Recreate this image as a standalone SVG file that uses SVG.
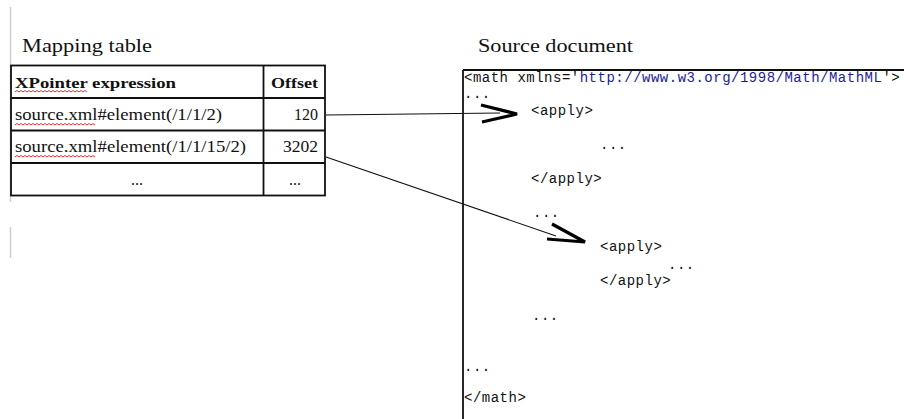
<svg xmlns="http://www.w3.org/2000/svg" width="904" height="419" viewBox="0 0 904 419">
<style>
.title{font-family:"Liberation Serif","Times New Roman",serif;font-size:19px;fill:#111}
.cell{font-family:"Liberation Serif","Times New Roman",serif;font-size:16px;fill:#111}
.hdr{font-family:"Liberation Serif","Times New Roman",serif;font-size:15px;font-weight:bold;fill:#111}
.code{font-family:"Liberation Mono","Courier New",monospace;font-size:14px;letter-spacing:0.5px;fill:#111}
.url{fill:#1c1c9e}
.grid{stroke:#111;stroke-width:1.8;fill:none}
.squig{stroke:#e03030;stroke-width:1;fill:none}
.conn{stroke:#111;stroke-width:1.1;fill:none}
.head{stroke:#000;stroke-width:3.2;fill:none;stroke-linejoin:miter;stroke-linecap:butt}
.guide{stroke:#cfcfcf;stroke-width:1.5}
</style>
<rect width="904" height="419" fill="#fff"/>
<line class="guide" x1="10.5" y1="7" x2="10.5" y2="202"/>
<line class="guide" x1="10.5" y1="227" x2="10.5" y2="258"/>

<g id="mapping-table">
<text class="title" x="22" y="52" textLength="130" lengthAdjust="spacingAndGlyphs">Mapping table</text>
<rect class="grid" x="11" y="65.5" width="314" height="130"/>
<line class="grid" x1="263.5" y1="65.5" x2="263.5" y2="195.5"/>
<line class="grid" x1="11" y1="98" x2="325" y2="98"/>
<line class="grid" x1="11" y1="130.5" x2="325" y2="130.5"/>
<line class="grid" x1="11" y1="163" x2="325" y2="163"/>
<text class="hdr" x="15" y="88" textLength="161" lengthAdjust="spacingAndGlyphs">XPointer expression</text>
<text class="hdr" x="271" y="88" textLength="47" lengthAdjust="spacingAndGlyphs">Offset</text>
<text class="cell" x="15" y="120" textLength="207" lengthAdjust="spacingAndGlyphs">source.xml#element(/1/1/2)</text>
<text class="cell" x="318" y="120" text-anchor="end" textLength="24" lengthAdjust="spacingAndGlyphs">120</text>
<text class="cell" x="15" y="152" textLength="231" lengthAdjust="spacingAndGlyphs">source.xml#element(/1/1/15/2)</text>
<text class="cell" x="318" y="152" text-anchor="end" textLength="35" lengthAdjust="spacingAndGlyphs">3202</text>
<text class="cell" x="137" y="185" text-anchor="middle">...</text>
<text class="cell" x="295" y="185" text-anchor="middle">...</text>
<path class="squig" d="M15,92 l2,-1.5 2,1.5 2,-1.5 2,1.5 2,-1.5 2,1.5 2,-1.5 2,1.5 2,-1.5 2,1.5 2,-1.5 2,1.5 2,-1.5 2,1.5 2,-1.5 2,1.5 2,-1.5 2,1.5 2,-1.5 2,1.5 2,-1.5 2,1.5 2,-1.5 2,1.5 2,-1.5 2,1.5 2,-1.5 2,1.5 2,-1.5 2,1.5 2,-1.5 2,1.5 2,-1.5 2,1.5 2,-1.5 2,1.5"/>
<path class="squig" d="M15,125 l2,-1.5 2,1.5 2,-1.5 2,1.5 2,-1.5 2,1.5 2,-1.5 2,1.5 2,-1.5 2,1.5 2,-1.5 2,1.5 2,-1.5 2,1.5 2,-1.5 2,1.5 2,-1.5 2,1.5 2,-1.5 2,1.5 2,-1.5 2,1.5 2,-1.5 2,1.5 2,-1.5 2,1.5 2,-1.5 2,1.5 2,-1.5 2,1.5 2,-1.5 2,1.5 2,-1.5 2,1.5 2,-1.5 2,1.5 2,-1.5 2,1.5 2,-1.5 2,1.5"/>
<path class="squig" d="M15,157 l2,-1.5 2,1.5 2,-1.5 2,1.5 2,-1.5 2,1.5 2,-1.5 2,1.5 2,-1.5 2,1.5 2,-1.5 2,1.5 2,-1.5 2,1.5 2,-1.5 2,1.5 2,-1.5 2,1.5 2,-1.5 2,1.5 2,-1.5 2,1.5 2,-1.5 2,1.5 2,-1.5 2,1.5 2,-1.5 2,1.5 2,-1.5 2,1.5 2,-1.5 2,1.5 2,-1.5 2,1.5 2,-1.5 2,1.5 2,-1.5 2,1.5 2,-1.5 2,1.5"/>
</g>

<g id="source-document">
<text class="title" x="478" y="52" textLength="155" lengthAdjust="spacingAndGlyphs">Source document</text>
<line class="grid" x1="463" y1="70" x2="904" y2="70"/>
<line class="grid" x1="463" y1="70" x2="463" y2="419"/>
<text class="code" x="464" y="82">&lt;math xmlns='<tspan class="url">http://www.w3.org/1998/Math/MathML</tspan>'&gt;</text>
<text class="code" x="464" y="98">...</text>
<text class="code" x="531" y="115">&lt;apply&gt;</text>
<text class="code" x="600" y="149">...</text>
<text class="code" x="531" y="183">&lt;/apply&gt;</text>
<text class="code" x="533" y="217">...</text>
<text class="code" x="600" y="251">&lt;apply&gt;</text>
<text class="code" x="668" y="269">...</text>
<text class="code" x="600" y="285">&lt;/apply&gt;</text>
<text class="code" x="532" y="320">...</text>
<text class="code" x="464" y="371">...</text>
<text class="code" x="464" y="402">&lt;/math&gt;</text>
</g>

<g id="connectors">
<path class="conn" d="M326,115 L370,114.5 L500,113"/>
<path class="head" d="M481,105 L517,114 L482,122"/>
<path class="conn" d="M326,157 L556,236"/>
<path class="head" d="M552,224 L585,242 L547,239"/>
</g>
</svg>
